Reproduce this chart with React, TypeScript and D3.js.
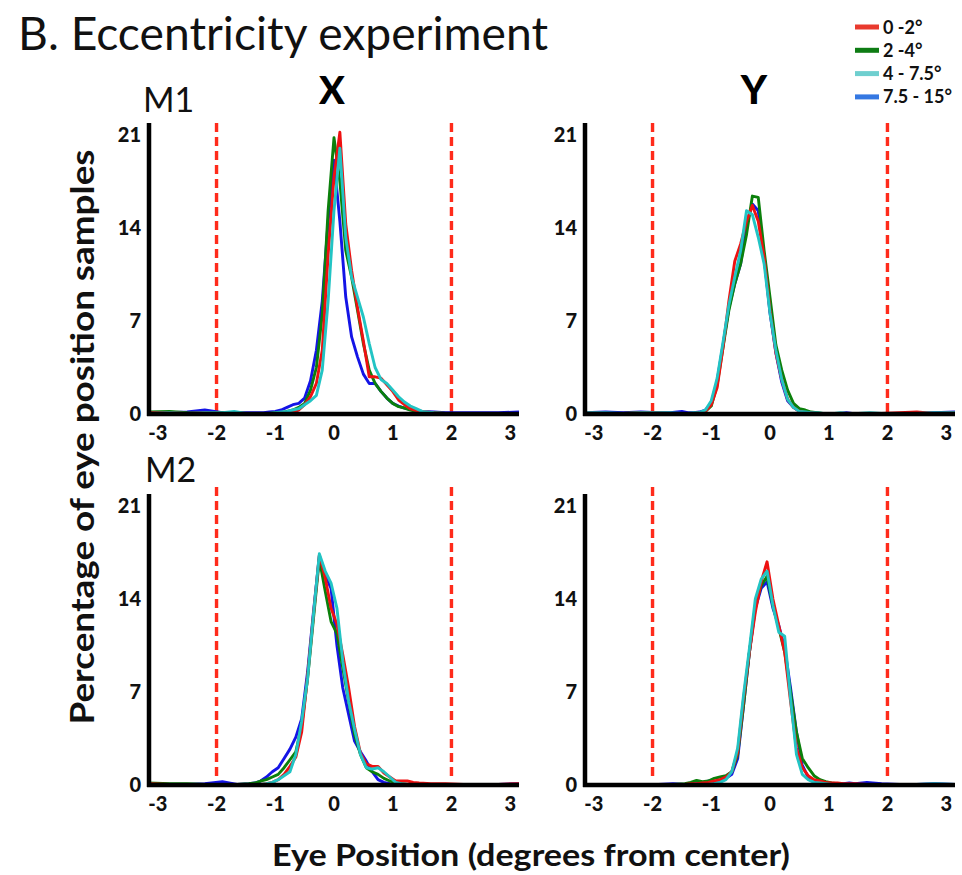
import * as d3 from 'd3'

// bin centres (deg); two grids, the second shifted by half a bin
const BINS_A = [-3.15, -2.8, -2.5, -2.2, -1.9, -1.7, -1.5, -1.4, -1.3, -1.2, -1.1, -1.0, -0.9, -0.8, -0.7, -0.6, -0.5, -0.4, -0.3, -0.2, -0.1, 0, 0.1, 0.2, 0.3, 0.4, 0.5, 0.6, 0.7, 0.8, 0.9, 1.0, 1.1, 1.2, 1.3, 1.4, 1.5, 1.7, 1.9, 2.2, 2.5, 2.8, 3.15]
const BINS_B = [-3.15, -2.8, -2.5, -2.2, -1.9, -1.65, -1.45, -1.35, -1.25, -1.15, -1.05, -0.95, -0.85, -0.75, -0.65, -0.55, -0.45, -0.35, -0.25, -0.15, -0.05, 0.05, 0.15, 0.25, 0.35, 0.45, 0.55, 0.65, 0.75, 0.85, 0.95, 1.05, 1.15, 1.25, 1.35, 1.45, 1.65, 1.9, 2.2, 2.5, 2.8, 3.15]

const RANGES = ['0 -2°', '2 -4°', '4 - 7.5°', '7.5 - 15°']
const LINE_COLORS = ['#ee1111', '#0b800b', '#22c4c4', '#1414e6']
const KEY_COLORS = ['#e93a2e', '#0e7c14', '#6fcfcf', '#3578e2']
const X_TICKS = [-3, -2, -1, 0, 1, 2, 3]
const Y_TICKS = [0, 7, 14, 21]
const LIMITS = [-2, 2]

// M1, X (BINS_A)
const M1_X_0_2 = [0.1, 0.1, 0.05, 0.1, 0.05, 0.1, 0.05, 0.05, 0.05, 0.05, 0.05, 0.05, 0.1, 0.1, 0.15, 0.3, 0.7, 1.3, 2.3, 4.8, 12.0, 17.8, 21.2, 14.3, 10.8, 8.0, 5.5, 2.8, 2.8, 2.7, 2.2, 1.7, 1.05, 0.7, 0.4, 0.25, 0.2, 0.1, 0.05, 0.05, 0.05, 0.05, 0.05]
const M1_X_2_4 = [0.15, 0.2, 0.1, 0.05, 0.1, 0.05, 0.05, 0.05, 0.05, 0.05, 0.05, 0.1, 0.1, 0.2, 0.3, 0.5, 0.8, 1.8, 3.5, 7.5, 15.3, 20.8, 17.5, 12.3, 10.3, 7.8, 5.3, 3.3, 2.3, 1.7, 1.2, 0.8, 0.55, 0.45, 0.3, 0.2, 0.1, 0.1, 0.05, 0.05, 0.05, 0.05, 0.05]
const M1_X_4_75 = [0.05, 0.1, 0.05, 0.1, 0.1, 0.2, 0.05, 0.05, 0.05, 0.05, 0.05, 0.1, 0.15, 0.2, 0.3, 0.4, 0.7, 1.0, 1.4, 3.3, 8.5, 15.3, 20.0, 13.3, 10.3, 8.8, 7.3, 5.3, 3.5, 2.6, 2.3, 1.8, 1.3, 0.9, 0.6, 0.4, 0.2, 0.1, 0.05, 0.05, 0.05, 0.05, 0.05]
const M1_X_75_15 = [0.1, 0.1, 0.15, 0.3, 0.1, 0.1, 0.1, 0.1, 0.1, 0.1, 0.15, 0.2, 0.3, 0.5, 0.7, 0.8, 1.2, 2.5, 4.8, 8.5, 14.5, 19.1, 14.5, 8.8, 5.8, 4.3, 3.0, 2.3, 2.3, 1.7, 1.2, 0.8, 0.6, 0.45, 0.35, 0.25, 0.2, 0.15, 0.1, 0.1, 0.1, 0.1, 0.15]

// M1, Y (BINS_A)
const M1_Y_0_2 = [0.1, 0.05, 0.05, 0.1, 0.1, 0.05, 0.05, 0.05, 0.05, 0.1, 0.2, 0.7, 2.0, 5.0, 8.5, 11.5, 12.8, 14.5, 15.7, 14.5, 11.8, 7.8, 4.6, 2.6, 1.1, 0.5, 0.2, 0.1, 0.1, 0.05, 0.05, 0.05, 0.05, 0.05, 0.05, 0.05, 0.05, 0.05, 0.05, 0.1, 0.15, 0.05, 0.1]
const M1_Y_2_4 = [0.05, 0.05, 0.05, 0.1, 0.05, 0.05, 0.05, 0.05, 0.05, 0.1, 0.2, 0.6, 2.2, 5.0, 7.8, 9.8, 11.3, 13.5, 16.4, 16.3, 12.3, 8.8, 5.2, 3.3, 1.8, 0.8, 0.4, 0.3, 0.15, 0.1, 0.05, 0.05, 0.05, 0.05, 0.05, 0.05, 0.05, 0.05, 0.05, 0.05, 0.05, 0.05, 0.05]
const M1_Y_4_75 = [0.1, 0.1, 0.05, 0.1, 0.1, 0.1, 0.05, 0.05, 0.1, 0.1, 0.3, 1.0, 2.7, 5.4, 8.2, 10.3, 12.3, 15.3, 15.0, 13.3, 11.3, 7.6, 4.8, 2.6, 1.1, 0.5, 0.2, 0.15, 0.1, 0.1, 0.05, 0.05, 0.05, 0.1, 0.05, 0.05, 0.05, 0.1, 0.05, 0.05, 0.05, 0.1, 0.1]
const M1_Y_75_15 = [0.1, 0.15, 0.1, 0.15, 0.1, 0.1, 0.2, 0.1, 0.1, 0.15, 0.3, 0.8, 2.5, 5.2, 8.0, 9.8, 11.3, 14.3, 15.8, 15.3, 11.8, 7.6, 4.6, 2.4, 1.0, 0.5, 0.2, 0.1, 0.1, 0.05, 0.05, 0.05, 0.05, 0.05, 0.1, 0.05, 0.05, 0.05, 0.05, 0.05, 0.05, 0.1, 0.15]

// M2, X (BINS_B)
const M2_X_0_2 = [0.1, 0.05, 0.05, 0.05, 0.05, 0.05, 0.05, 0.05, 0.05, 0.1, 0.2, 0.4, 0.8, 1.4, 2.1, 4.0, 8.2, 12.8, 17.3, 15.6, 13.3, 12.1, 9.8, 7.3, 4.4, 2.4, 1.6, 1.4, 1.4, 0.9, 0.6, 0.3, 0.3, 0.3, 0.2, 0.15, 0.1, 0.1, 0.05, 0.05, 0.05, 0.1]
const M2_X_2_4 = [0.15, 0.1, 0.1, 0.05, 0.05, 0.05, 0.1, 0.15, 0.3, 0.4, 0.6, 0.8, 1.3, 1.9, 2.5, 4.5, 8.0, 12.5, 17.0, 14.6, 12.3, 11.4, 8.8, 6.3, 3.8, 2.3, 1.3, 1.0, 0.8, 0.5, 0.3, 0.2, 0.1, 0.05, 0.05, 0.05, 0.05, 0.05, 0.05, 0.05, 0.05, 0.05]
const M2_X_4_75 = [0.05, 0.05, 0.05, 0.05, 0.05, 0.05, 0.05, 0.05, 0.05, 0.1, 0.2, 0.4, 0.7, 1.0, 2.3, 4.8, 8.0, 12.8, 17.4, 16.1, 15.2, 13.3, 9.3, 6.3, 4.2, 2.3, 1.3, 1.2, 1.3, 1.0, 0.6, 0.2, 0.1, 0.05, 0.05, 0.05, 0.05, 0.05, 0.05, 0.05, 0.05, 0.05]
const M2_X_75_15 = [0.1, 0.05, 0.05, 0.1, 0.25, 0.05, 0.1, 0.15, 0.3, 0.6, 1.0, 1.3, 2.0, 2.7, 3.6, 5.0, 8.5, 13.0, 17.2, 15.8, 14.8, 10.5, 7.3, 5.3, 3.3, 2.5, 1.8, 1.0, 0.4, 0.2, 0.1, 0.05, 0.05, 0.05, 0.05, 0.05, 0.05, 0.05, 0.05, 0.05, 0.05, 0.1]

// M2, Y (BINS_B)
const M2_Y_0_2 = [0.05, 0.05, 0.05, 0.05, 0.05, 0.05, 0.05, 0.1, 0.1, 0.15, 0.2, 0.3, 0.4, 0.6, 1.0, 2.5, 6.5, 10.0, 13.0, 15.3, 16.8, 14.0, 12.0, 10.0, 6.3, 2.8, 1.3, 0.7, 0.4, 0.3, 0.2, 0.15, 0.15, 0.1, 0.1, 0.1, 0.05, 0.05, 0.05, 0.05, 0.05, 0.05]
const M2_Y_2_4 = [0.05, 0.05, 0.05, 0.05, 0.05, 0.05, 0.1, 0.2, 0.35, 0.25, 0.3, 0.5, 0.6, 0.7, 1.0, 2.3, 6.0, 10.0, 13.5, 15.0, 15.7, 13.5, 11.8, 10.0, 7.0, 4.0, 2.0, 1.3, 0.7, 0.4, 0.25, 0.15, 0.1, 0.05, 0.05, 0.05, 0.05, 0.05, 0.05, 0.05, 0.05, 0.05]
const M2_Y_4_75 = [0.05, 0.05, 0.05, 0.05, 0.05, 0.05, 0.05, 0.05, 0.05, 0.05, 0.05, 0.1, 0.2, 0.4, 1.0, 2.8, 6.8, 10.3, 14.0, 15.5, 16.1, 13.5, 11.5, 11.2, 6.5, 2.3, 0.8, 0.4, 0.2, 0.15, 0.1, 0.05, 0.05, 0.05, 0.05, 0.05, 0.05, 0.05, 0.05, 0.05, 0.1, 0.05]
const M2_Y_75_15 = [0.05, 0.05, 0.05, 0.05, 0.05, 0.1, 0.05, 0.05, 0.1, 0.15, 0.3, 0.2, 0.3, 0.5, 0.8, 2.0, 6.0, 10.0, 13.3, 14.8, 15.3, 13.3, 12.0, 10.3, 7.3, 4.0, 1.5, 0.6, 0.3, 0.2, 0.15, 0.1, 0.1, 0.1, 0.15, 0.1, 0.2, 0.1, 0.05, 0.05, 0.1, 0.05]

const FONT = 'Lato, "Open Sans", sans-serif'
const DRAW_ORDER = [3, 1, 0, 2] // blue under, cyan on top

export default function App() {
  const width = 962
  const height = 875
  const panelW = 370
  const panelH = 291

  const layout = [
    { bins: BINS_A, series: [M1_X_0_2, M1_X_2_4, M1_X_4_75, M1_X_75_15], left: 149, top: 123, dashTop: 0, dashBottom: 2 },
    { bins: BINS_A, series: [M1_Y_0_2, M1_Y_2_4, M1_Y_4_75, M1_Y_75_15], left: 585, top: 123, dashTop: 0, dashBottom: 2 },
    { bins: BINS_B, series: [M2_X_0_2, M2_X_2_4, M2_X_4_75, M2_X_75_15], left: 149, top: 494, dashTop: -7, dashBottom: 9 },
    { bins: BINS_B, series: [M2_Y_0_2, M2_Y_2_4, M2_Y_4_75, M2_Y_75_15], left: 585, top: 494, dashTop: -7, dashBottom: 9 },
  ]

  const x = d3.scaleLinear().domain([-3.15, 3.15]).range([0, panelW])
  const y = d3.scaleLinear().domain([0, 21.9]).range([panelH, 0])

  return (
    <svg width={width} height={height} style={{ position: 'absolute', left: 0, top: 0, background: '#fff' }}>
      <rect width={width} height={height} fill="#fff" />

      <text x={18} y={50} fontFamily={FONT} fontSize={46} fill="#111" textLength={530} lengthAdjust="spacingAndGlyphs">
        B. Eccentricity experiment
      </text>

      <text x={143} y={112} fontFamily={FONT} fontSize={34} fill="#111">M1</text>
      <text x={145} y={482} fontFamily={FONT} fontSize={34} fill="#111">M2</text>
      <text x={332} y={104} fontFamily={FONT} fontSize={38} fontWeight="900" textAnchor="middle" fill="#000">X</text>
      <text x={754} y={104} fontFamily={FONT} fontSize={40} fontWeight="900" textAnchor="middle" fill="#000">Y</text>

      {/* legend */}
      {RANGES.map((r, i) => {
        const ly = 27 + i * 23.3
        return (
          <g key={r}>
            <line x1={855} x2={879} y1={ly} y2={ly} stroke={KEY_COLORS[i]} strokeWidth={5} />
            <text x={883} y={ly + 6.5} fontFamily={FONT} fontSize={18} fontWeight="bold" fill="#111">{r}</text>
          </g>
        )
      })}

      {layout.map((p, pi) => {
        const line = d3.line<number>()
          .x((_, i) => x(p.bins[i]))
          .y(d => y(d))
        return (
          <g key={pi} transform={`translate(${p.left},${p.top})`}>
            {/* fixation window limits */}
            {LIMITS.map(v => (
              <line key={v} x1={x(v)} x2={x(v)} y1={p.dashTop} y2={panelH - p.dashBottom}
                stroke="#ff2b1b" strokeWidth={3.4} strokeDasharray="9,5" />
            ))}

            {DRAW_ORDER.map(si => (
              <path key={si} d={line(p.series[si]) ?? ''} fill="none" stroke={LINE_COLORS[si]}
                strokeWidth={2.9} strokeLinejoin="round" />
            ))}

            {/* axes */}
            <line x1={0} x2={0} y1={0} y2={panelH + 2} stroke="#000" strokeWidth={4.5} />
            <line x1={-2} x2={panelW} y1={panelH} y2={panelH} stroke="#000" strokeWidth={4.5} />

            {Y_TICKS.map(t => (
              <text key={t} x={-8} y={y(t)} dy="0.36em" textAnchor="end" fontFamily={FONT}
                fontSize={20} fontWeight="900" fill="#111">{t}</text>
            ))}
            {X_TICKS.map(t => (
              <text key={t} x={x(t)} y={panelH + 26} textAnchor="middle" fontFamily={FONT}
                fontSize={20} fontWeight="900" fill="#111">{t}</text>
            ))}
          </g>
        )
      })}

      <text transform="translate(94,437) rotate(-90)" textAnchor="middle" fontFamily={FONT} fontSize={32}
        fontWeight="bold" fill="#111" textLength={575} lengthAdjust="spacingAndGlyphs">
        Percentage of eye position samples
      </text>
      <text x={531} y={866} textAnchor="middle" fontFamily={FONT} fontSize={31} fontWeight="bold" fill="#111"
        textLength={518} lengthAdjust="spacingAndGlyphs">
        Eye Position (degrees from center)
      </text>
    </svg>
  )
}
